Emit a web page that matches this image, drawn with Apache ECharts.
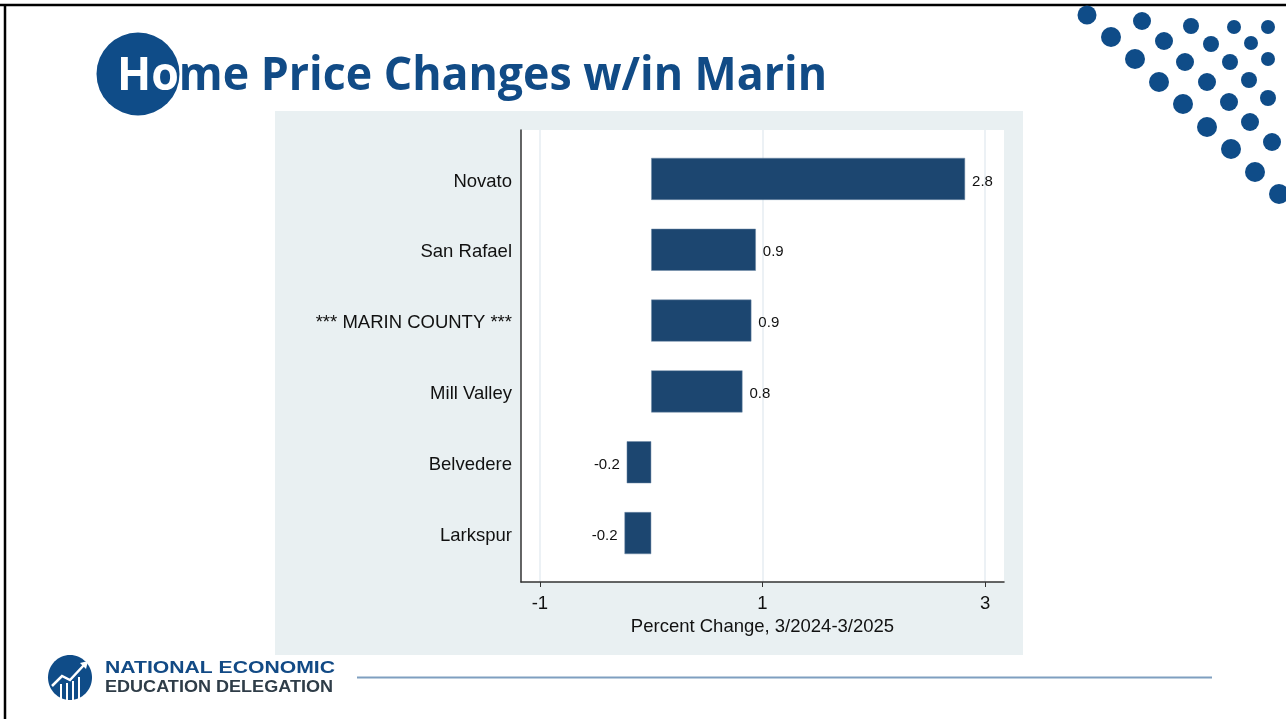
<!DOCTYPE html>
<html>
<head>
<meta charset="utf-8">
<title>Home Price Changes w/in Marin</title>
<script src="https://cdn.jsdelivr.net/npm/echarts@6/dist/echarts.min.js"></script>
<style>
    html, body { margin: 0; padding: 0; background: #fff; }
    #chart { width: 1286px; height: 719px; }
</style>
</head>
<body>
<div id="chart"></div>
<script>
// 数据
const cities = ['Novato', 'San Rafael', '*** MARIN COUNTY ***', 'Mill Valley', 'Belvedere', 'Larkspur'];
const changes = [2.82, 0.94, 0.90, 0.82, -0.22, -0.24];
const xTicks = [-1, 1, 3];
const xName = 'Percent Change, 3/2024-3/2025';

// 右上角装饰圆点 [x, y, r]
const dots = [
    [1087, 15, 9.5], [1142, 21, 9], [1191, 26, 8], [1234, 27, 7], [1268, 27, 7],
    [1111, 37, 10], [1164, 41, 9], [1211, 44, 8], [1251, 43, 7], [1268, 59, 7],
    [1135, 59, 10], [1185, 62, 9], [1230, 62, 8], [1159, 82, 10], [1207, 82, 9],
    [1249, 80, 8], [1268, 98, 8], [1183, 104, 10], [1229, 102, 9], [1207, 127, 10],
    [1250, 122, 9], [1272, 142, 9], [1231, 149, 10], [1255, 172, 10], [1279, 194, 10]
];

document.addEventListener('DOMContentLoaded', function() {
    const chart = echarts.init(document.getElementById('chart'));
    const blue = '#114b86';
    const xMin = -1.17, xMax = 3.17;

    // 按原图宽度缩放文字
    const ctx = document.createElement('canvas').getContext('2d');
    function fitScale(font, text, width) {
        ctx.font = font;
        return width / ctx.measureText(text).width;
    }
    const titleFont = 'bold 46px "Open Sans"';
    const titleText = 'Home Price Changes w/in Marin';
    const logoFont = 'bold 17px "Liberation Sans"';

    const graphics = [
        { type: 'rect', shape: { x: 275, y: 111, width: 748, height: 544 }, style: { fill: '#e9f0f2' }, z: -10 },
        { type: 'line', shape: { x1: 0, y1: 5, x2: 1286, y2: 5 }, style: { stroke: '#000', lineWidth: 2.5 } },
        { type: 'line', shape: { x1: 5, y1: 5, x2: 5, y2: 719 }, style: { stroke: '#000', lineWidth: 2.5 } },
        { type: 'circle', shape: { cx: 138, cy: 74, r: 41.5 }, style: { fill: '#0f4c88' } },
        {
            type: 'text', x: 117, y: 77, scaleX: fitScale(titleFont, titleText, 710),
            style: {
                text: '{w|Ho}{b|me Price Changes w/in Marin}',
                font: titleFont, verticalAlign: 'middle',
                rich: {
                    w: { fill: '#fff', font: titleFont },
                    b: { fill: blue, font: titleFont }
                }
            }
        },
        // 底部 logo
        { type: 'ellipse', shape: { cx: 70, cy: 677.5, rx: 22, ry: 22.5 }, style: { fill: '#0f4c88' } },
        { type: 'polyline', shape: { points: [[52, 686], [62, 676], [70, 680], [84, 665]] }, style: { stroke: '#fff', lineWidth: 2.5, fill: null } },
        { type: 'polygon', shape: { points: [[80, 663], [88, 661], [86, 669]] }, style: { fill: '#fff' } },
        { type: 'rect', shape: { x: 60, y: 684, width: 2, height: 15 }, style: { fill: '#fff' } },
        { type: 'rect', shape: { x: 66, y: 683, width: 2, height: 17 }, style: { fill: '#fff' } },
        { type: 'rect', shape: { x: 72, y: 681, width: 2, height: 19 }, style: { fill: '#fff' } },
        { type: 'rect', shape: { x: 78, y: 677, width: 2, height: 22 }, style: { fill: '#fff' } },
        {
            type: 'text', x: 105, y: 668, scaleX: fitScale(logoFont, 'NATIONAL ECONOMIC', 230),
            style: { text: 'NATIONAL ECONOMIC', font: logoFont, fill: '#124a85', verticalAlign: 'middle' }
        },
        {
            type: 'text', x: 105, y: 687, scaleX: fitScale(logoFont, 'EDUCATION DELEGATION', 228),
            style: { text: 'EDUCATION DELEGATION', font: logoFont, fill: '#2f3d48', verticalAlign: 'middle' }
        },
        { type: 'line', shape: { x1: 357, y1: 677.5, x2: 1212, y2: 677.5 }, style: { stroke: '#7f9fc0', lineWidth: 2 } }
    ];
    dots.forEach(d => {
        graphics.push({ type: 'circle', shape: { cx: d[0], cy: d[1], r: d[2] }, style: { fill: '#0f4c88' } });
    });

    const option = {
        animation: false,
        textStyle: { fontFamily: '"Liberation Sans", Arial, sans-serif' },
        graphic: graphics,
        grid: [
            // 坐标框
            { left: 521, top: 130, width: 483, height: 452, show: true, backgroundColor: '#fff', borderWidth: 0 },
            // 条形
            { left: 521, top: 143.5, width: 483, height: 425 }
        ],
        xAxis: [
            {
                gridIndex: 0, type: 'value', min: xMin, max: xMax,
                name: xName, nameLocation: 'middle', nameGap: 30,
                nameTextStyle: { fontSize: 18.5, color: '#111' },
                axisLine: { show: true, onZero: false, lineStyle: { color: '#333', width: 1.5 } },
                axisTick: { show: true, length: 5, customValues: xTicks, lineStyle: { color: '#333' } },
                axisLabel: { fontSize: 18.5, color: '#111', margin: 12, customValues: xTicks },
                splitLine: { show: true, lineStyle: { color: '#e6edf2', width: 1.5 } }
            },
            {
                gridIndex: 1, type: 'value', min: xMin, max: xMax, show: false
            }
        ],
        yAxis: [
            {
                gridIndex: 0, type: 'value', min: 0, max: 1,
                axisLine: { show: true, onZero: false, lineStyle: { color: '#333', width: 1.5 } },
                axisTick: { show: false }, axisLabel: { show: false }, splitLine: { show: false }
            },
            {
                gridIndex: 1, type: 'category', inverse: true, data: cities,
                axisLine: { show: false }, axisTick: { show: false },
                axisLabel: {
                    margin: 9,
                    formatter: v => '{c|' + v + '}',
                    rich: { c: { fontSize: 18.5, color: '#111', padding: [5, 0, 0, 0] } }
                }
            }
        ],
        series: [{
            type: 'bar',
            xAxisIndex: 1,
            yAxisIndex: 1,
            barWidth: 42,
            itemStyle: { color: '#1c4670', borderColor: '#6f8aa6', borderWidth: 0.5 },
            label: {
                show: true, distance: 7,
                formatter: p => '{v|' + p.value.toFixed(1) + '}',
                rich: { v: { fontSize: 15, color: '#111', padding: [5, 0, 0, 0] } }
            },
            data: changes.map(v => ({ value: v, label: { position: v < 0 ? 'left' : 'right' } }))
        }]
    };
    chart.setOption(option);
});
</script>
</body>
</html>
